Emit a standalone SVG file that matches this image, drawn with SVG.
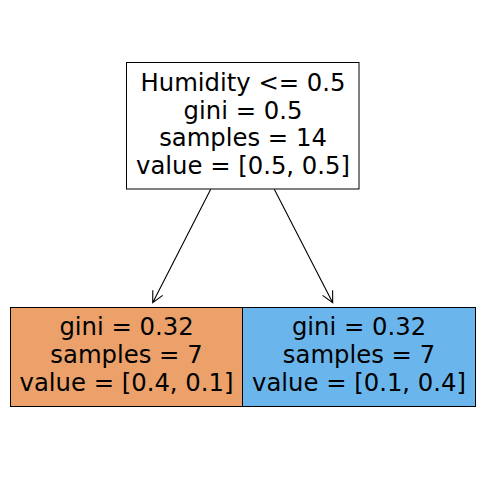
<svg xmlns="http://www.w3.org/2000/svg" width="484" height="482" viewBox="0 0 484 482">
<style>
.box{stroke:#000;stroke-width:1}
.t{font-family:"DejaVu Sans",sans-serif;font-size:24.3px;fill:#000;text-anchor:middle}
.edge{stroke:#000;stroke-width:1.1;fill:none}
</style>
<rect width="484" height="482" fill="#fff"/>
<g id="connectors">
<path class="edge" d="M210.7,189.3 L152.7,302.7 M152.8,290.3 L152.7,302.7 L162.7,295.4"/>
<path class="edge" d="M274.3,189.3 L332.7,302.7 M332.6,290.3 L332.7,302.7 L322.6,295.4"/>
</g>
<g id="root">
<rect class="box" x="126.5" y="62.5" width="232.5" height="126.5" fill="#fff"/>
<text class="t" x="243" y="90.8">Humidity &lt;= 0.5</text>
<text class="t" x="243" y="118.6">gini = 0.5</text>
<text class="t" x="243" y="146.4">samples = 14</text>
<text class="t" x="243" y="174.2">value = [0.5, 0.5]</text>
</g>
<g id="left">
<rect class="box" x="10.5" y="307.5" width="232" height="99" fill="#eca06a"/>
<text class="t" x="126.5" y="335.2">gini = 0.32</text>
<text class="t" x="126.5" y="363">samples = 7</text>
<text class="t" x="126.5" y="390.8">value = [0.4, 0.1]</text>
</g>
<g id="right">
<rect class="box" x="242.5" y="307.5" width="233" height="99" fill="#6ab6ec"/>
<text class="t" x="359" y="335.2">gini = 0.32</text>
<text class="t" x="359" y="363">samples = 7</text>
<text class="t" x="359" y="390.8">value = [0.1, 0.4]</text>
</g>
</svg>
